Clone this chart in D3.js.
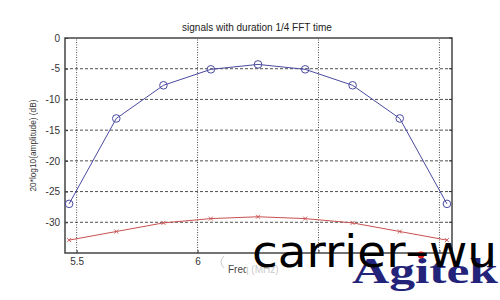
<!DOCTYPE html>
<html>
<head>
<meta charset="utf-8">
<script src="https://cdn.jsdelivr.net/npm/d3@7"></script>
<style>
  body { margin: 0; background: #fff; }
  svg { display: block; font-family: "Liberation Sans", Arial, sans-serif; }
</style>
</head>
<body>
<div id="chart"></div>
<script>
// values
const freqs = [5.469, 5.664, 5.859, 6.055, 6.25, 6.445, 6.641, 6.836, 7.031];
const blueDb = [-27, -13.1, -7.7, -5.1, -4.3, -5.1, -7.7, -13.1, -27];
const redDb = [-32.9, -31.5, -30.1, -29.4, -29.1, -29.4, -30.1, -31.5, -32.9];
const xTicks = [5.5, 6, 6.5, 7];
// only the first two labels are visible, the rest sit under the watermark
const xTickLabels = ["5.5", "6", "", ""];
const yTicks = [0, -5, -10, -15, -20, -25, -30];

const W = 500, H = 300;
const margin = { top: 38, right: 48, bottom: 47, left: 65 };

const svg = d3.select('#chart').append('svg')
    .attr('width', W)
    .attr('height', H);

const x = d3.scaleLinear()
    .domain([5.452, 7.052])
    .range([margin.left, W - margin.right]);

const y = d3.scaleLinear()
    .domain([-35, 0])
    .range([H - margin.bottom, margin.top]);

// grid
const grid = svg.append('g');
grid.selectAll('line.h')
    .data(yTicks.filter(d => d !== 0))
    .join('line')
    .attr('x1', x.range()[0]).attr('x2', x.range()[1])
    .attr('y1', d => y(d)).attr('y2', d => y(d))
    .attr('stroke', '#222').attr('stroke-width', 0.8)
    .attr('stroke-dasharray', '3,2');
grid.selectAll('line.v')
    .data(xTicks)
    .join('line')
    .attr('x1', d => x(d)).attr('x2', d => x(d))
    .attr('y1', y.range()[0]).attr('y2', y.range()[1])
    .attr('stroke', '#222').attr('stroke-width', 0.8)
    .attr('stroke-dasharray', '1,1.5');

// axes (MATLAB-style ticks inside)
const xAxis = svg.append('g')
    .attr('transform', `translate(0,${y.range()[0]})`)
    .call(d3.axisTop(x).tickValues(xTicks).tickSize(3)
        .tickFormat((d, i) => xTickLabels[i]));
xAxis.selectAll('text')
    .attr('y', 12).attr('dy', 0)
    .attr('font-size', 10).attr('fill', '#333');

const yAxis = svg.append('g')
    .attr('transform', `translate(${x.range()[0]},0)`)
    .call(d3.axisRight(y).tickValues(yTicks).tickSize(3)
        .tickFormat(d => String(d)));
yAxis.selectAll('text')
    .attr('x', -5).attr('text-anchor', 'end')
    .attr('font-size', 10).attr('fill', '#333');

svg.selectAll('.domain').remove();
svg.selectAll('.tick line').attr('stroke', '#333');

// box
svg.append('rect')
    .attr('x', x.range()[0]).attr('y', y.range()[1])
    .attr('width', x.range()[1] - x.range()[0])
    .attr('height', y.range()[0] - y.range()[1])
    .attr('fill', 'none').attr('stroke', '#444').attr('stroke-width', 1.5);

// right side ticks
svg.append('g')
    .selectAll('line')
    .data(yTicks)
    .join('line')
    .attr('x1', x.range()[1] - 3).attr('x2', x.range()[1])
    .attr('y1', d => y(d)).attr('y2', d => y(d))
    .attr('stroke', '#333');

const line = d3.line()
    .x(d => x(d[0]))
    .y(d => y(d[1]));

const blue = d3.zip(freqs, blueDb);
const red = d3.zip(freqs, redDb);

svg.append('path')
    .datum(blue)
    .attr('d', line)
    .attr('fill', 'none')
    .attr('stroke', '#4a4aa0').attr('stroke-width', 1);

svg.append('g')
    .selectAll('circle')
    .data(blue)
    .join('circle')
    .attr('cx', d => x(d[0])).attr('cy', d => y(d[1]))
    .attr('r', 3.8)
    .attr('fill', 'none')
    .attr('stroke', '#4a4aa0').attr('stroke-width', 1);

svg.append('path')
    .datum(red)
    .attr('d', line)
    .attr('fill', 'none')
    .attr('stroke', '#c85050').attr('stroke-width', 1);

svg.append('g')
    .selectAll('path')
    .data(red)
    .join('path')
    .attr('d', d => {
        const cx = x(d[0]), cy = y(d[1]), s = 2;
        return `M${cx - s},${cy - s}L${cx + s},${cy + s}M${cx - s},${cy + s}L${cx + s},${cy - s}`;
    })
    .attr('stroke', '#c85050').attr('stroke-width', 0.9);

// labels
svg.append('text')
    .attr('x', 257).attr('y', 31)
    .attr('text-anchor', 'middle')
    .attr('font-size', 10).attr('fill', '#222')
    .text('signals with duration 1/4 FFT time');

svg.append('text')
    .attr('transform', `translate(36,${(y.range()[0] + y.range()[1]) / 2}) rotate(-90)`)
    .attr('text-anchor', 'middle')
    .attr('font-size', 9)
    .attr('textLength', 92).attr('lengthAdjust', 'spacingAndGlyphs')
    .attr('fill', '#333')
    .text('20*log10(amplitude) (dB)');

svg.append('text')
    .attr('x', 228).attr('y', 273)
    .attr('font-size', 10).attr('fill', '#444')
    .text('Freq (MHz)');

// watermark
svg.append('rect')
    .attr('x', 246).attr('y', 256).attr('width', 254).attr('height', 44)
    .attr('fill', '#fff').attr('opacity', 0.7);
svg.append('path')
    .attr('d', 'M224,256 Q218,262 224,268')
    .attr('fill', 'none').attr('stroke', '#ccc').attr('stroke-width', 1);

svg.append('text')
    .attr('x', 352).attr('y', 283)
    .attr('font-family', '"Liberation Serif", "DejaVu Serif", serif')
    .attr('font-weight', 'bold')
    .attr('font-size', 36)
    .attr('textLength', 146).attr('lengthAdjust', 'spacingAndGlyphs')
    .attr('fill', '#23237a')
    .text('Agitek');
svg.append('circle')
    .attr('cx', 421).attr('cy', 255).attr('r', 3.4)
    .attr('fill', '#e02020');

svg.append('text')
    .attr('x', 252).attr('y', 267)
    .attr('font-family', '"DejaVu Sans", sans-serif')
    .attr('font-size', 44)
    .attr('textLength', 245).attr('lengthAdjust', 'spacingAndGlyphs')
    .attr('fill', '#000')
    .text('carrier–wu');
</script>
</body>
</html>
